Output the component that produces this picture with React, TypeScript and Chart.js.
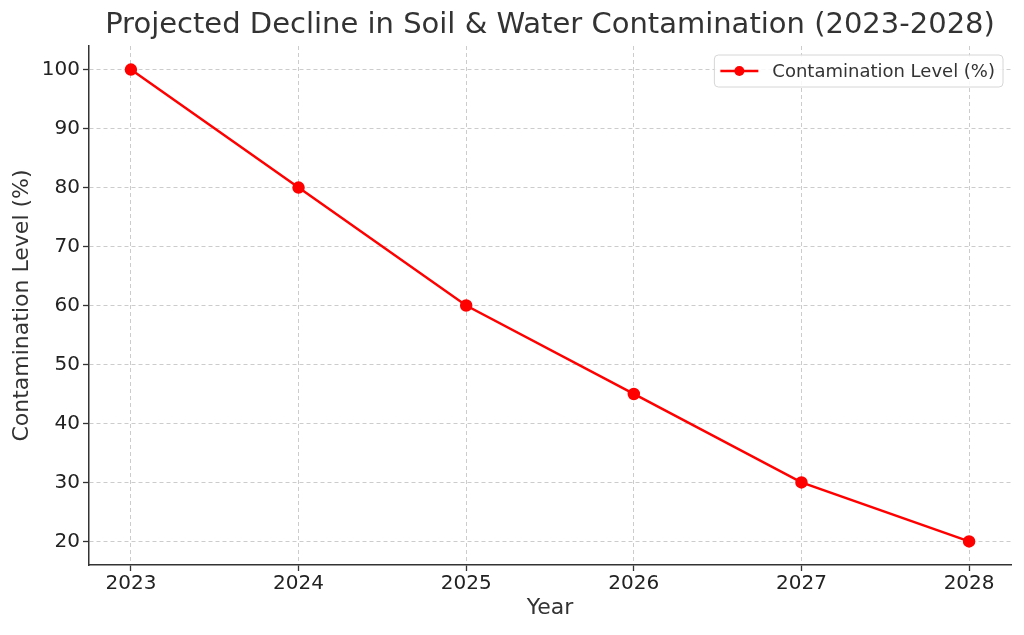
import React, { useEffect, useRef } from "react";
import { Chart, registerables } from "chart.js";

Chart.register(...registerables);

const years = [2023, 2024, 2025, 2026, 2027, 2028];
const contamination = [100, 80, 60, 45, 30, 20];
const yTicks = [20, 30, 40, 50, 60, 70, 80, 90, 100];
const seriesLabel = "Contamination Level (%)";
const titleText = "Projected Decline in Soil & Water Contamination (2023-2028)";

const FONT = "'DejaVu Sans', sans-serif";

const boxedLegend = {
  id: "boxedLegend",
  afterDraw(chart: any) {
    const { ctx, chartArea } = chart;
    const ds = chart.data.datasets[0];
    ctx.save();
    ctx.font = `18px ${FONT}`;
    const tw = ctx.measureText(ds.label).width;
    const w = 58 + tw + 8;
    const h = 32;
    const right = chartArea.right - 8;
    const left = right - w;
    const top = chartArea.top + 9;
    ctx.beginPath();
    ctx.roundRect(left, top, w, h, 4);
    ctx.fillStyle = "rgba(255,255,255,0.85)";
    ctx.fill();
    ctx.strokeStyle = "#d6d6d6";
    ctx.lineWidth = 1;
    ctx.stroke();
    const cy = top + h / 2;
    ctx.beginPath();
    ctx.moveTo(left + 6, cy);
    ctx.lineTo(left + 44, cy);
    ctx.strokeStyle = ds.borderColor;
    ctx.lineWidth = 2.5;
    ctx.stroke();
    ctx.beginPath();
    ctx.arc(left + 25, cy, 5, 0, Math.PI * 2);
    ctx.fillStyle = ds.pointBackgroundColor;
    ctx.fill();
    ctx.fillStyle = "#333333";
    ctx.textBaseline = "middle";
    ctx.textAlign = "left";
    ctx.fillText(ds.label, left + 58, cy + 1);
    ctx.restore();
  },
};

export default function App() {
  const ref = useRef<HTMLCanvasElement | null>(null);
  useEffect(() => {
    if (!ref.current) return;
    const chart = new Chart(ref.current, {
      type: "line",
      data: {
        datasets: [
          {
            label: seriesLabel,
            data: years.map((y, i) => ({ x: y, y: contamination[i] })),
            borderColor: "#ff0000",
            backgroundColor: "#ff0000",
            pointBackgroundColor: "#ff0000",
            pointBorderColor: "#ff0000",
            borderWidth: 2.5,
            pointRadius: 5,
            pointHoverRadius: 5,
            tension: 0,
          },
        ],
      },
      options: {
        animation: false,
        responsive: false,
        maintainAspectRatio: false,
        layout: { padding: { left: 0, right: 13, top: 0, bottom: 0 } },
        plugins: {
          legend: { display: false },
          tooltip: { enabled: false },
          title: {
            display: true,
            text: titleText,
            fullSize: false,
            color: "#333333",
            font: { family: FONT, size: 29, weight: "normal", lineHeight: 1.2 },
            padding: { top: 7.6, bottom: 3.6 },
          },
        },
        scales: {
          x: {
            type: "linear",
            min: 2022.75,
            max: 2028.25,
            afterBuildTicks: (scale: any) => {
              scale.ticks = years.map((v) => ({ value: v }));
            },
            afterFit: (scale: any) => {
              scale.height = 70;
            },
            ticks: {
              color: "#222222",
              font: { family: FONT, size: 20 },
              padding: 1,
              callback: (v: any) => String(v),
              maxRotation: 0,
              autoSkip: false,
            },
            grid: {
              color: "#cccccc",
              lineWidth: 1,
              tickLength: 6,
              tickColor: "#333333",
              tickWidth: 1.3,
            },
            border: { display: true, color: "#333333", width: 1.5, dash: [4, 3] },
            title: {
              display: true,
              text: "Year",
              color: "#333333",
              font: { family: FONT, size: 22 },
              padding: { top: 4, bottom: 14 },
            },
          },
          y: {
            type: "linear",
            min: 16,
            max: 104,
            afterBuildTicks: (scale: any) => {
              scale.ticks = yTicks.map((v) => ({ value: v }));
            },
            afterFit: (scale: any) => {
              scale.width = 89;
            },
            ticks: {
              color: "#222222",
              font: { family: FONT, size: 20 },
              padding: 3,
            },
            grid: {
              color: "#cccccc",
              lineWidth: 1,
              tickLength: 6,
              tickColor: "#333333",
              tickWidth: 1.3,
            },
            border: { display: true, color: "#333333", width: 1.5, dash: [4, 3] },
            title: {
              display: true,
              text: seriesLabel,
              color: "#333333",
              font: { family: FONT, size: 22 },
              padding: { top: 9, bottom: 4 },
            },
          },
        },
      } as any,
      plugins: [boxedLegend],
    });
    return () => chart.destroy();
  }, []);
  return (
    <div style={{ position: "fixed", left: 0, top: 0, width: 1024, height: 635, background: "#ffffff" }}>
      <canvas ref={ref} width={1024} height={635} style={{ width: 1024, height: 635 }} />
    </div>
  );
}
